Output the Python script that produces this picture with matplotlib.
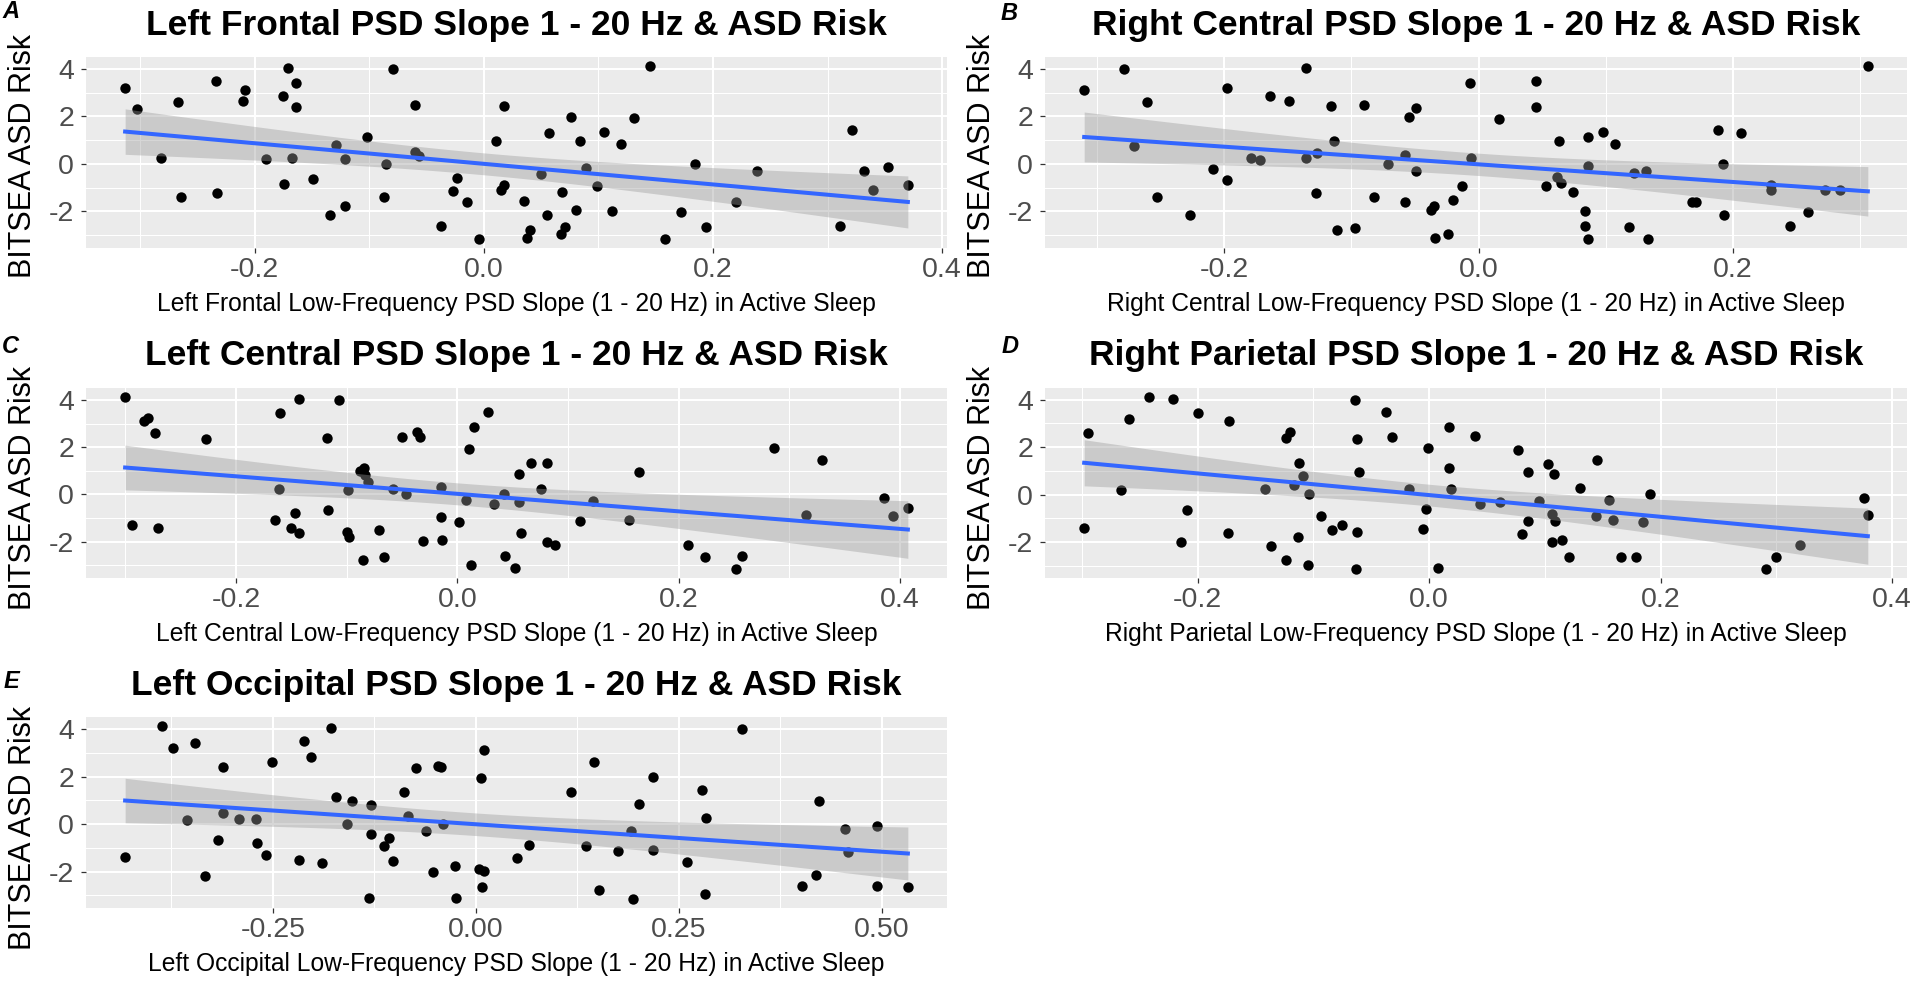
import numpy as np
import matplotlib
matplotlib.use("Agg")
import matplotlib.pyplot as plt
from matplotlib.ticker import MultipleLocator, FormatStrFormatter

plt.rcParams['font.family'] = ['Liberation Sans', 'DejaVu Sans']
plt.rcParams['axes.unicode_minus'] = False

# --- данные ---
a_x = [-0.313, -0.303, -0.282, -0.267, -0.264, -0.234, -0.233, -0.210, -0.208, -0.190, -0.175, -0.171,
       -0.174, -0.167, -0.164, -0.164, -0.149, -0.134, -0.129, -0.121, -0.121, -0.102, -0.087, -0.085,
       -0.079, -0.060, -0.060, -0.057, -0.037, -0.027, -0.023, -0.015, -0.004, 0.011, 0.018, 0.015, 0.018,
       0.035, 0.038, 0.040, 0.050, 0.055, 0.057, 0.068, 0.067, 0.071, 0.076, 0.080, 0.084, 0.089, 0.099,
       0.105, 0.112, 0.120, 0.131, 0.145, 0.158, 0.172, 0.184, 0.194, 0.220, 0.238, 0.311, 0.321, 0.332,
       0.340, 0.353, 0.370]
a_y = [3.19, 2.32, 0.24, 2.60, -1.38, 3.47, -1.24, 2.63, 3.10, 0.21, 2.84, 4.03,
       -0.83, 0.25, 3.41, 2.39, -0.64, -2.15, 0.80, 0.22, -1.78, 1.15, -1.41, 0.01,
       3.99, 2.46, 0.50, 0.33, -2.63, -1.12, -0.59, -1.62, -3.15, 0.98, 2.42, -1.08, -0.90,
       -1.55, -3.12, -2.76, -0.41, -2.13, 1.30, -1.19, -2.94, -2.64, 1.96, -1.94, 0.97, -0.17, -0.94,
       1.33, -2.00, 0.84, 1.92, 4.13, -3.17, -2.03, 0.01, -2.64, -1.62, -0.28, -2.63, 1.44, -0.31,
       -1.09, -0.11, -0.87]

b_x = [-0.310, -0.279, -0.271, -0.261, -0.253, -0.227, -0.209, -0.198, -0.198, -0.179, -0.172, -0.164,
       -0.149, -0.136, -0.136, -0.128, -0.127, -0.116, -0.114, -0.111, -0.097, -0.090, -0.082, -0.071,
       -0.058, -0.058, -0.055, -0.049, -0.049, -0.037, -0.035, -0.034, -0.024, -0.020, -0.013, -0.007,
       -0.006, 0.016, 0.045, 0.045, 0.053, 0.063, 0.062, 0.065, 0.074, 0.084, 0.084, 0.086, 0.086, 0.086,
       0.098, 0.107, 0.118, 0.122, 0.132, 0.133, 0.168, 0.171, 0.188, 0.192, 0.193, 0.206, 0.230, 0.230,
       0.245, 0.259, 0.272, 0.284, 0.306]
b_y = [3.10, 3.99, 0.74, 2.60, -1.38, -2.15, -0.21, 3.19, -0.66, 0.25, 0.18, 2.84,
       2.64, 4.03, 0.25, -1.24, 0.46, 2.42, 0.98, -2.76, -2.69, 2.46, -1.41, 0.01,
       -1.59, 0.36, 1.96, 2.34, -0.28, -1.92, -1.78, -3.13, -2.94, -1.51, -0.94, 3.41,
       0.25, 1.90, 3.47, 2.38, -0.91, 0.98, -0.56, -0.80, -1.17, -2.00, -2.63, -3.15, -0.10, 1.13,
       1.36, 0.85, -2.64, -0.38, -0.28, -3.17, -1.62, -1.62, 1.44, 0.01, -2.13, 1.31, -0.90, -1.10,
       -2.63, -2.01, -1.08, -1.10, 4.13]

c_x = [-0.300, -0.294, -0.283, -0.279, -0.273, -0.270, -0.227, -0.165, -0.161, -0.160, -0.150, -0.147,
       -0.143, -0.143, -0.118, -0.117, -0.107, -0.100, -0.098, -0.099, -0.088, -0.084, -0.083, -0.081,
       -0.085, -0.071, -0.066, -0.058, -0.050, -0.046, -0.036, -0.034, -0.031, -0.015, -0.015, -0.014,
       0.002, 0.008, 0.011, 0.012, 0.015, 0.028, 0.033, 0.042, 0.043, 0.052,
       0.056, 0.056, 0.058, 0.067, 0.076, 0.081, 0.081, 0.088, 0.111, 0.123, 0.155, 0.164, 0.208, 0.224,
       0.252, 0.257, 0.286, 0.315, 0.329, 0.385, 0.394, 0.407]
c_y = [4.14, -1.29, 3.12, 3.22, 2.60, -1.40, 2.35, -1.10, 0.25, 3.43, -1.40, -0.80,
       4.03, -1.64, 2.39, -0.66, 3.99, -1.57, -1.78, 0.18, 0.98, 1.12, 0.81, 0.53,
       -2.76, -1.50, -2.66, 0.21, 2.42, 0.04, 2.66, 2.45, -1.99, 0.32, -0.94, -1.92,
       -1.17, -0.24, 1.93, -2.97, 2.87, 3.50, -0.42, 0.04, -2.62, -3.13,
       0.85, -0.31, -1.64, 1.34, 0.25, 1.33, -2.01, -2.13, -1.12, -0.28, -1.08, 0.95, -2.15, -2.64,
       -3.17, -2.62, 1.97, -0.87, 1.44, -0.13, -0.91, -0.59]

d_x = [-0.298, -0.295, -0.266, -0.259, -0.242, -0.221, -0.214, -0.209, -0.200, -0.174, -0.173, -0.142,
       -0.137, -0.124, -0.124, -0.120, -0.117, -0.113, -0.112, -0.109, -0.105, -0.104, -0.093, -0.084,
       -0.075, -0.064, -0.063, -0.062, -0.062, -0.061, -0.037, -0.032, -0.017, -0.005, -0.003, -0.001,
       0.008, 0.017, 0.017, 0.019, 0.040, 0.044,
       0.061, 0.077, 0.080, 0.085, 0.085, 0.095, 0.103, 0.106, 0.106, 0.108, 0.109, 0.115, 0.121, 0.130,
       0.144, 0.145, 0.155, 0.159, 0.166, 0.179, 0.185, 0.191, 0.291, 0.300, 0.320, 0.376, 0.379]
d_y = [-1.40, 2.59, 0.18, 3.19, 4.13, 4.03, -2.01, -0.66, 3.43, -1.61, 3.12, 0.22,
       -2.15, -2.76, 2.38, 2.66, 0.42, -1.78, 1.33, 0.78, -2.97, 0.01, -0.92, -1.50,
       -1.29, 4.00, -3.15, 2.35, -1.57, 0.95, 3.47, 2.42, 0.25, -1.43, -0.59, 1.96,
       -3.10, 2.87, 1.13, 0.25, 2.45, -0.41,
       -0.31, 1.90, -1.64, 0.95, -1.12, -0.28, 1.30, -0.80, -1.99, 0.85, -1.12, -1.92, -2.62, 0.29,
       -0.91, 1.44, -0.21, -1.08, -2.64, -2.64, -1.17, 0.01, -3.15, -2.62, -2.13, -0.13, -0.87]

e_x = [-0.432, -0.387, -0.373, -0.356, -0.346, -0.334, -0.318, -0.312, -0.312, -0.292, -0.271, -0.269,
       -0.259, -0.251, -0.218, -0.212, -0.203, -0.189, -0.179, -0.172, -0.159, -0.152, -0.132, -0.129,
       -0.129, -0.113, -0.107, -0.102, -0.088, -0.084, -0.074, -0.062, -0.053, -0.047, -0.043, -0.041,
       -0.026, -0.025, 0.004, 0.010, 0.006, 0.008, 0.010,
       0.051, 0.066, 0.117, 0.136, 0.146, 0.152, 0.175, 0.191, 0.193, 0.201, 0.218, 0.218, 0.260, 0.278,
       0.282, 0.283, 0.328, 0.402, 0.419, 0.423, 0.455, 0.458, 0.494, 0.494, 0.532]
e_y = [-1.40, 4.14, 3.19, 0.18, 3.43, -2.17, -0.66, 2.39, 0.46, 0.22, 0.22, -0.80,
       -1.29, 2.63, -1.50, 3.50, 2.84, -1.64, 4.03, 1.13, 0.01, 0.95, -3.13, 0.78,
       -0.41, -0.94, -0.59, -1.57, 1.34, 0.32, 2.35, -0.28, -2.03, 2.45, 2.42, 0.01,
       -1.78, -3.13, -1.89, -1.99, 1.93, -2.66, 3.12,
       -1.43, -0.87, 1.33, -0.91, 2.59, -2.76, -1.12, -0.28, -3.17, 0.85, 1.97, -1.08, -1.61, 1.44,
       -2.94, 0.24, 3.99, -2.62, -2.13, 0.95, -0.21, -1.19, -2.62, -0.10, -2.64]

regions = ["Left Frontal", "Right Central", "Left Central", "Right Parietal", "Left Occipital"]
letters = ["A", "B", "C", "D", "E"]
x_major = [0.2, 0.2, 0.2, 0.2, 0.25]
x_fmt = ['%.1f', '%.1f', '%.1f', '%.1f', '%.2f']

# положение панелей в пикселях: left, top, right, bottom
W, H = 1920, 990
boxes = [(86, 57, 947, 248), (1045, 57, 1907, 248),
         (86, 388, 947, 578), (1045, 388, 1907, 578),
         (86, 717, 947, 908)]
letter_pos = [(11, 12), (1009, 14), (10, 347), (1010, 347), (11, 681)]
# сдвиг подписи оси Y вниз (пиксели), у панели E она ниже
ylab_shift = [3, 3, 5, 5, 16]

fig = plt.figure(figsize=(W / 100, H / 100), dpi=100)
data = [(a_x, a_y), (b_x, b_y), (c_x, c_y), (d_x, d_y), (e_x, e_y)]

for i, (xs, ys) in enumerate(data):
    l, t, r, b = boxes[i]
    ax = fig.add_axes([l / W, 1 - b / H, (r - l) / W, (b - t) / H])
    ax.set_facecolor('#EBEBEB')
    for s in ax.spines.values():
        s.set_visible(False)

    x = np.array(xs)
    y = np.array(ys)
    ax.scatter(x, y, s=56, color='black', linewidths=0, zorder=2)

    # линейная регрессия + 95% доверительный интервал (как geom_smooth(method='lm'))
    n = len(x)
    slope, icpt = np.polyfit(x, y, 1)
    xg = np.linspace(x.min(), x.max(), 80)
    yg = slope * xg + icpt
    resid = y - (slope * x + icpt)
    sd = np.sqrt(np.sum(resid ** 2) / (n - 2))
    se = sd * np.sqrt(1 / n + (xg - x.mean()) ** 2 / np.sum((x - x.mean()) ** 2))
    ax.fill_between(xg, yg - 1.997 * se, yg + 1.997 * se, color='#999999', alpha=0.4, lw=0, zorder=3)
    ax.plot(xg, yg, color='#3366FF', lw=2.9, zorder=4)

    ax.margins(0.05)
    ax.xaxis.set_major_locator(MultipleLocator(x_major[i]))
    ax.xaxis.set_minor_locator(MultipleLocator(x_major[i] / 2))
    ax.yaxis.set_major_locator(MultipleLocator(2))
    ax.yaxis.set_minor_locator(MultipleLocator(1))
    ax.xaxis.set_major_formatter(FormatStrFormatter(x_fmt[i]))
    ax.yaxis.set_major_formatter(FormatStrFormatter('%d'))
    ax.grid(which='major', color='white', lw=1.5)
    ax.grid(which='minor', color='white', lw=0.75)
    ax.set_axisbelow(True)
    ax.tick_params(which='major', length=3.6, width=0.9, color='#333333',
                   labelcolor='#4D4D4D', labelsize=20.5)
    ax.tick_params(axis='x', which='major', pad=3)
    ax.tick_params(axis='y', which='major', pad=5)
    ax.tick_params(which='minor', length=0)

    cx = (l + r) / 2 / W
    fig.text(cx, 1 - (t - 32) / H, f"{regions[i]} PSD Slope 1 - 20 Hz & ASD Risk",
             ha='center', va='center', fontsize=25.5, fontweight='bold')
    fig.text(cx, 1 - (b + 56) / H,
             f"{regions[i]} Low-Frequency PSD Slope (1 - 20 Hz) in Active Sleep",
             ha='center', va='center', fontsize=17.7, color='black')
    fig.text((l - 63) / W, 1 - ((t + b) / 2 + ylab_shift[i]) / H, "BITSEA ASD Risk", rotation=90,
             ha='center', va='center', fontsize=22)
    fig.text(letter_pos[i][0] / W, 1 - letter_pos[i][1] / H, letters[i],
             ha='center', va='center', fontsize=17, fontweight='bold', fontstyle='italic')

fig.savefig("out.png", dpi=100, facecolor='white')
